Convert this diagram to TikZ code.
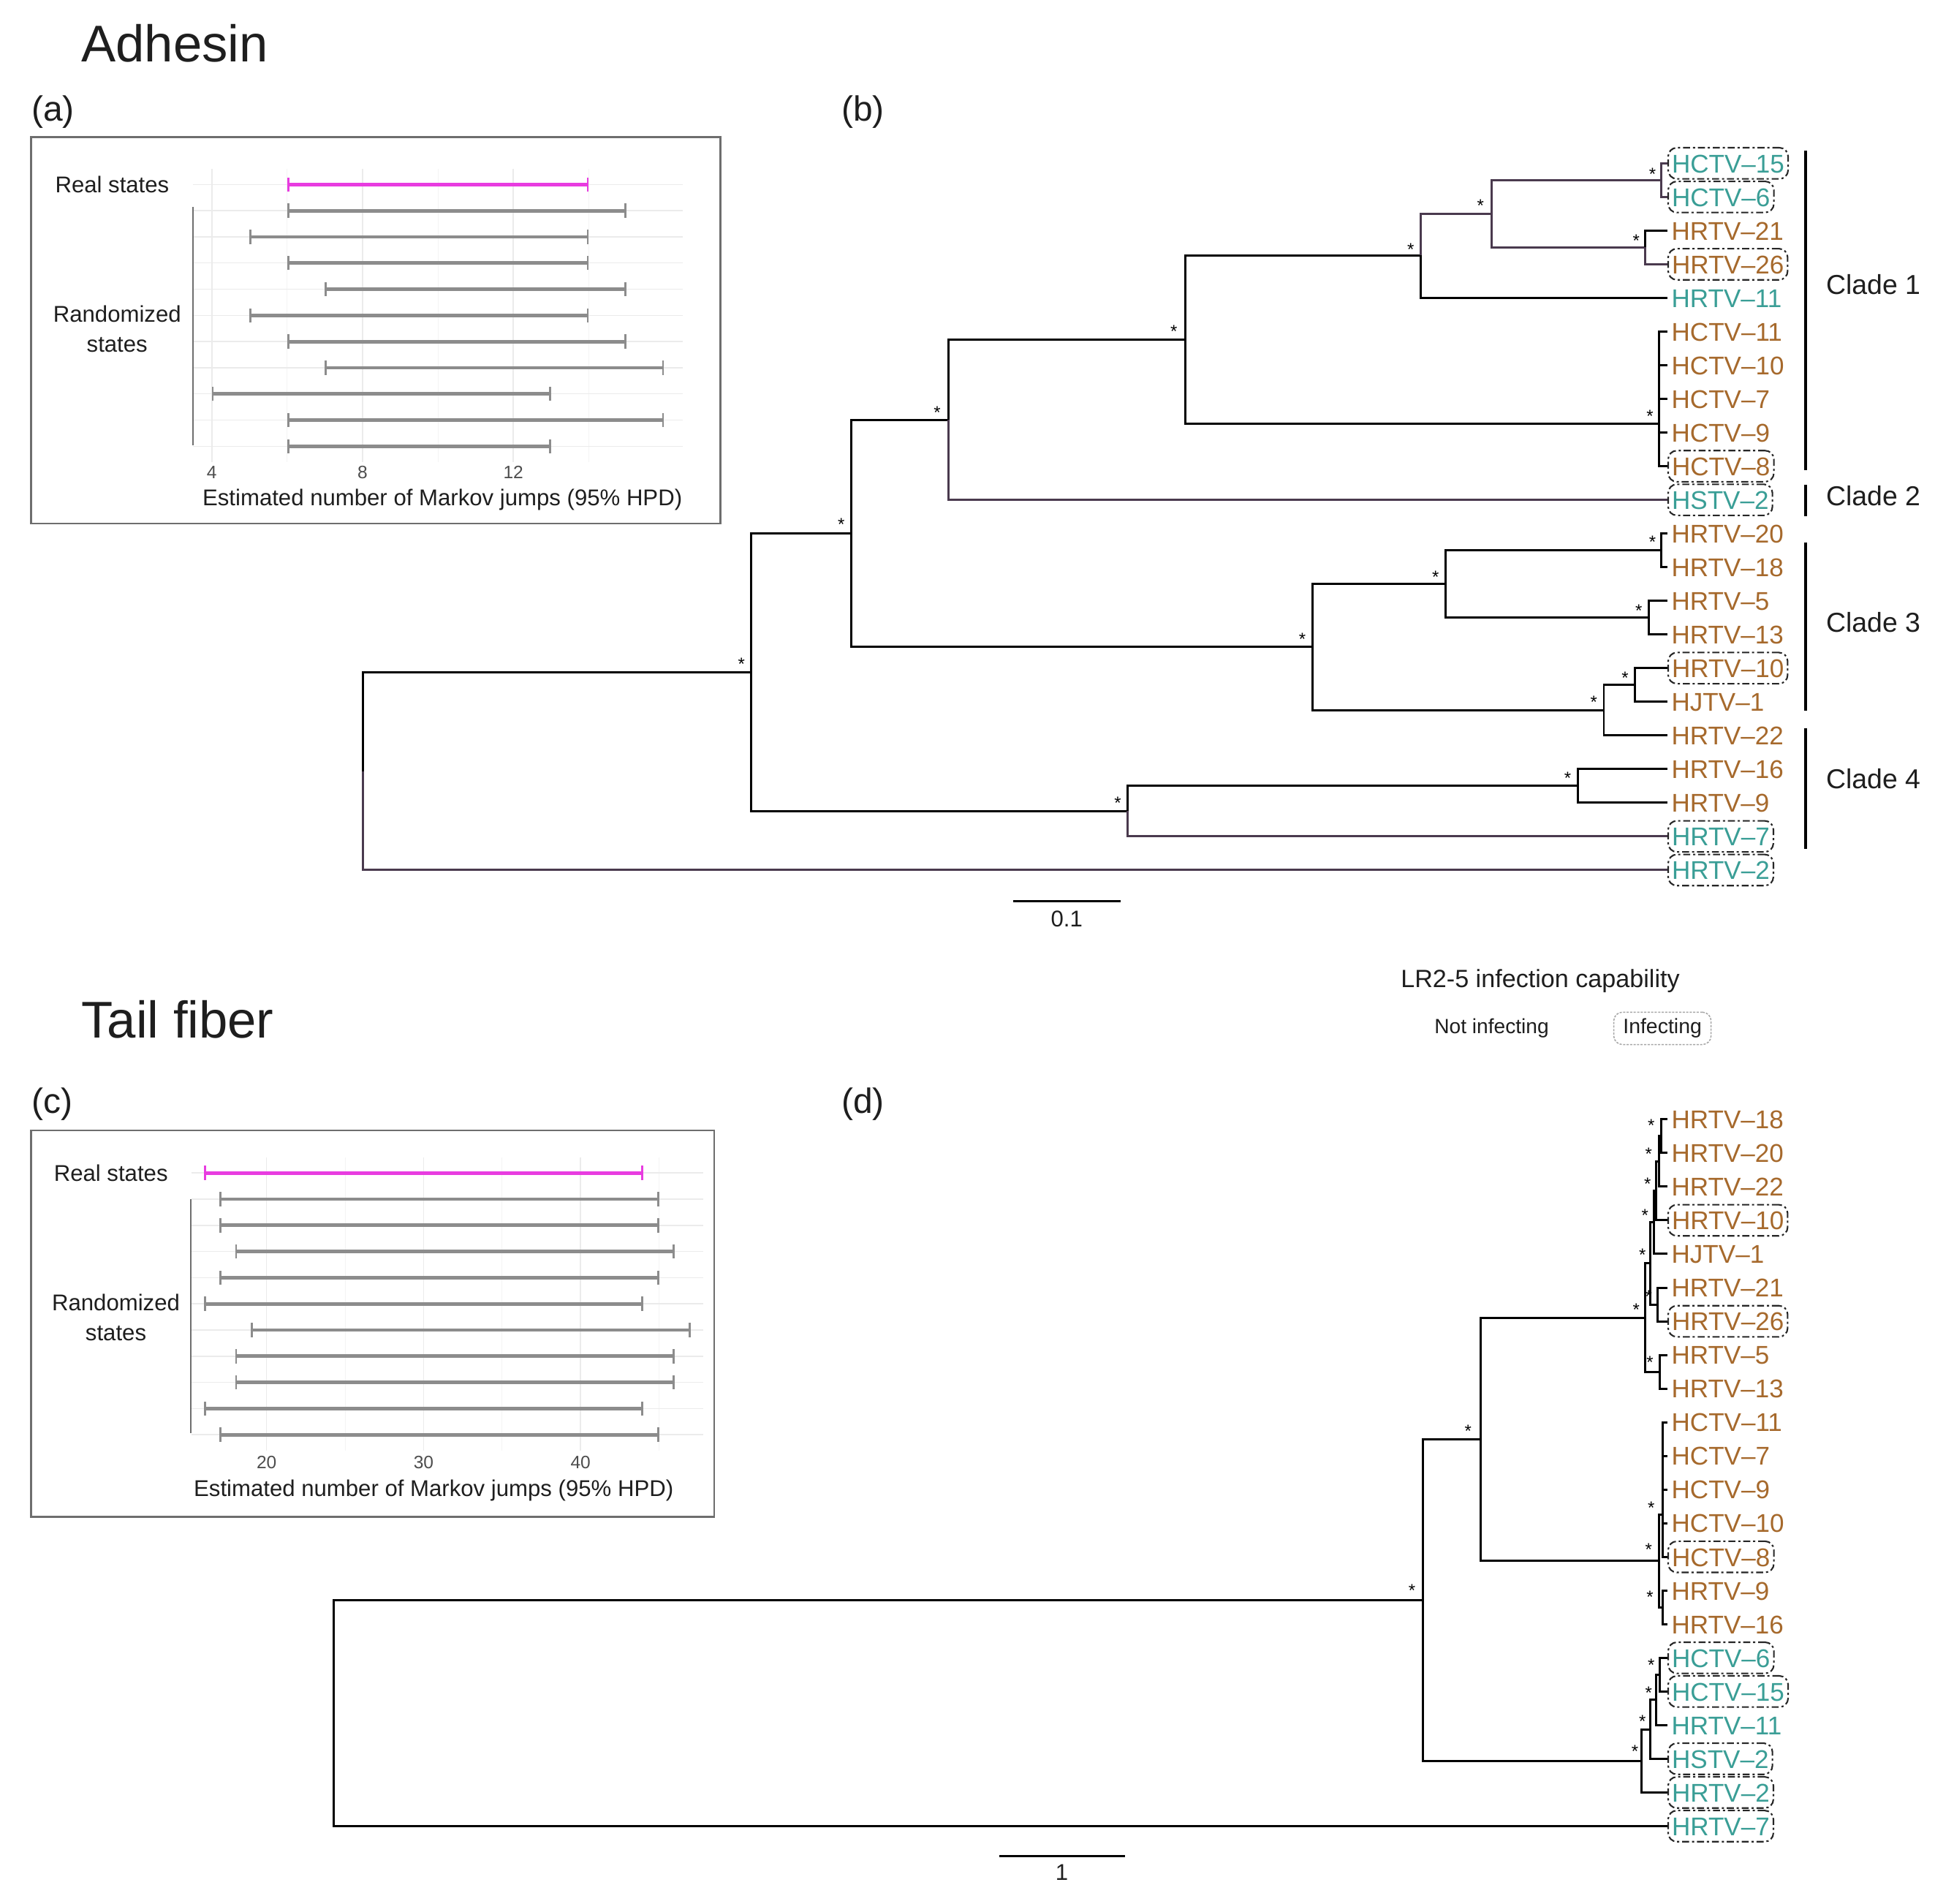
\documentclass[tikz,border=0pt]{standalone}
\usepackage{fontspec}
\setmainfont{Liberation Sans}
\usepackage{tikz}
\usetikzlibrary{arrows.meta}
\usepackage{xcolor}
\definecolor{tipteal}{HTML}{3A9E96}
\definecolor{tipbrown}{HTML}{A6692C}
\definecolor{hpdpink}{HTML}{E83CE0}
\definecolor{hpdgray}{HTML}{8C8C8C}
\definecolor{gridmaj}{HTML}{EBEBEB}
\definecolor{gridmin}{HTML}{F4F4F4}
\definecolor{brpurple}{HTML}{4A3A4E}
\definecolor{txtdark}{HTML}{1E1E1E}
\definecolor{tickgray}{HTML}{4D4D4D}
\definecolor{framegray}{HTML}{6E6E6E}

\tikzset{
  br/.style={line width=0.035cm,black},
  brp/.style={line width=0.035cm,brpurple},
  tip/.style={anchor=west,inner xsep=0.06cm,inner ysep=0.1cm,text height=0.3cm,text depth=0cm,
    font=\fontsize{11.7}{13}\selectfont},
  tipT/.style={tip,text=tipteal},
  tipR/.style={tip,text=tipbrown},
  infect/.style={draw=black!85,line width=0.7pt,rounded corners=0.14cm,
    dash pattern=on 3.2pt off 1.3pt on 1pt off 1.3pt},
  bs/.style={inner sep=0pt,font=\fontsize{8}{8}\selectfont},
  ttl/.style={anchor=west,inner sep=0pt,text=txtdark,font=\fontsize{23.6}{26}\selectfont},
  plab/.style={anchor=west,inner sep=0pt,text=txtdark,font=\fontsize{16}{18}\selectfont},
  lab/.style={inner sep=0pt,align=center,text=txtdark,font=\fontsize{10.4}{13.7}\selectfont},
  tick/.style={inner sep=0pt,text=tickgray,font=\fontsize{8.2}{9}\selectfont},
  clade/.style={anchor=west,inner sep=0pt,text=txtdark,font=\fontsize{12.5}{14}\selectfont},
  frame/.style={draw=framegray,line width=0.8pt},
  gmaj/.style={draw=gridmaj,line width=0.5pt},
  gmin/.style={draw=gridmin,line width=0.35pt},
  hpd/.style={draw=hpdgray,line width=1.6pt,{Bar[width=6.5pt,line width=0.9pt]}-{Bar[width=6.5pt,line width=0.9pt]}},
  hpdr/.style={hpd,draw=hpdpink},
  bracket/.style={draw=framegray,line width=0.7pt},
  cladebar/.style={line width=0.04cm,black}
}

\begin{document}
\begin{tikzpicture}[x=0.02cm,y=-0.02cm]
\useasboundingbox (0,0) rectangle (1568,1527.5);
\fill [white] (0,0) rectangle (1568,1527.5);

% titles and panel letters
\node [ttl] (tadh) at (65,35) {Adhesin};
\node [ttl] (ttail) at (65,818) {Tail fiber};
\node [plab] (pa) at (25,90) {(a)};
\node [plab] (pb) at (675,90) {(b)};
\node [plab] (pc) at (25,886) {(c)};
\node [plab] (pd) at (675,886) {(d)};

% panel (a)
\draw [frame] (25,110) rectangle (578,420);
\begin{scope}[shift={(49,0)},x=0.605cm]
\draw [gmin] (6,135.4) -- (6,370.6);
\draw [gmin] (10,135.4) -- (10,370.6);
\draw [gmin] (14,135.4) -- (14,370.6);
\draw [gmaj] (4,135.4) -- (4,370.6);
\draw [gmaj] (8,135.4) -- (8,370.6);
\draw [gmaj] (12,135.4) -- (12,370.6);
\draw [gmaj] (3.5,148) -- (16.5,148);
\draw [gmaj] (3.5,169) -- (16.5,169);
\draw [gmaj] (3.5,190) -- (16.5,190);
\draw [gmaj] (3.5,211) -- (16.5,211);
\draw [gmaj] (3.5,232) -- (16.5,232);
\draw [gmaj] (3.5,253) -- (16.5,253);
\draw [gmaj] (3.5,274) -- (16.5,274);
\draw [gmaj] (3.5,295) -- (16.5,295);
\draw [gmaj] (3.5,316) -- (16.5,316);
\draw [gmaj] (3.5,337) -- (16.5,337);
\draw [gmaj] (3.5,358) -- (16.5,358);
\draw [hpdr] (6,148) -- (14,148);
\draw [hpd] (6,169) -- (15,169);
\draw [hpd] (5,190) -- (14,190);
\draw [hpd] (6,211) -- (14,211);
\draw [hpd] (7,232) -- (15,232);
\draw [hpd] (5,253) -- (14,253);
\draw [hpd] (6,274) -- (15,274);
\draw [hpd] (7,295) -- (16,295);
\draw [hpd] (4,316) -- (13,316);
\draw [hpd] (6,337) -- (16,337);
\draw [hpd] (6,358) -- (13,358);
\node [tick] (ta4) at (4,379) {4};
\node [tick] (ta8) at (8,379) {8};
\node [tick] (ta12) at (12,379) {12};
\end{scope}
\draw [bracket] (155,166) -- (155,357);
\node [lab] (areal) at (90,148) {Real states};
\node [lab] (arand) at (94,264) {Randomized\\states};
\node [lab] (aaxis) at (355,401) {Estimated number of Markov jumps (95\% HPD)};

% panel (c)
\draw [frame] (25,907) rectangle (573,1217);
\begin{scope}[shift={(-38,0)},x=0.252cm]
\draw [gmin] (25,928.4) -- (25,1163.6);
\draw [gmin] (35,928.4) -- (35,1163.6);
\draw [gmin] (45,928.4) -- (45,1163.6);
\draw [gmaj] (20,928.4) -- (20,1163.6);
\draw [gmaj] (30,928.4) -- (30,1163.6);
\draw [gmaj] (40,928.4) -- (40,1163.6);
\draw [gmaj] (15.2,941) -- (47.8,941);
\draw [gmaj] (15.2,962) -- (47.8,962);
\draw [gmaj] (15.2,983) -- (47.8,983);
\draw [gmaj] (15.2,1004) -- (47.8,1004);
\draw [gmaj] (15.2,1025) -- (47.8,1025);
\draw [gmaj] (15.2,1046) -- (47.8,1046);
\draw [gmaj] (15.2,1067) -- (47.8,1067);
\draw [gmaj] (15.2,1088) -- (47.8,1088);
\draw [gmaj] (15.2,1109) -- (47.8,1109);
\draw [gmaj] (15.2,1130) -- (47.8,1130);
\draw [gmaj] (15.2,1151) -- (47.8,1151);
\draw [hpdr] (16,941) -- (44,941);
\draw [hpd] (17,962) -- (45,962);
\draw [hpd] (17,983) -- (45,983);
\draw [hpd] (18,1004) -- (46,1004);
\draw [hpd] (17,1025) -- (45,1025);
\draw [hpd] (16,1046) -- (44,1046);
\draw [hpd] (19,1067) -- (47,1067);
\draw [hpd] (18,1088) -- (46,1088);
\draw [hpd] (18,1109) -- (46,1109);
\draw [hpd] (16,1130) -- (44,1130);
\draw [hpd] (17,1151) -- (45,1151);
\node [tick] (tc20) at (20,1173) {20};
\node [tick] (tc30) at (30,1173) {30};
\node [tick] (tc40) at (40,1173) {40};
\end{scope}
\draw [bracket] (153,962) -- (153,1150);
\node [lab] (creal) at (89,941) {Real states};
\node [lab] (crand) at (93,1057) {Randomized\\states};
\node [lab] (caxis) at (348,1196) {Estimated number of Markov jumps (95\% HPD)};

% tree (b): tips
\node [tipT,infect] (b1) at (1338,131) {HCTV–15};
\node [tipT,infect] (b2) at (1338,158) {HCTV–6};
\node [tipR] (b3) at (1338,185) {HRTV–21};
\node [tipR,infect] (b4) at (1338,212) {HRTV–26};
\node [tipT] (b5) at (1338,239) {HRTV–11};
\node [tipR] (b6) at (1338,266) {HCTV–11};
\node [tipR] (b7) at (1338,293) {HCTV–10};
\node [tipR] (b8) at (1338,320) {HCTV–7};
\node [tipR] (b9) at (1338,347) {HCTV–9};
\node [tipR,infect] (b10) at (1338,374) {HCTV–8};
\node [tipT,infect] (b11) at (1338,401) {HSTV–2};
\node [tipR] (b12) at (1338,428) {HRTV–20};
\node [tipR] (b13) at (1338,455) {HRTV–18};
\node [tipR] (b14) at (1338,482) {HRTV–5};
\node [tipR] (b15) at (1338,509) {HRTV–13};
\node [tipR,infect] (b16) at (1338,536) {HRTV–10};
\node [tipR] (b17) at (1338,563) {HJTV–1};
\node [tipR] (b18) at (1338,590) {HRTV–22};
\node [tipR] (b19) at (1338,617) {HRTV–16};
\node [tipR] (b20) at (1338,644) {HRTV–9};
\node [tipT,infect] (b21) at (1338,671) {HRTV–7};
\node [tipT,infect] (b22) at (1338,698) {HRTV–2};

% tree (b): inner nodes
\coordinate (bR) at (291,618.7);
\coordinate (bA) at (603,539.3);
\coordinate (bB) at (683,427.9);
\coordinate (bC) at (905,650.75);
\coordinate (bD) at (761,336.75);
\coordinate (bE) at (1053,519.1);
\coordinate (bF) at (951,272.5);
\coordinate (bG) at (1140,205);
\coordinate (bH) at (1331,340);
\coordinate (bI) at (1197,171.5);
\coordinate (bJ) at (1333,144.5);
\coordinate (bK) at (1320,198.5);
\coordinate (bL) at (1160,468.5);
\coordinate (bM) at (1287,569.75);
\coordinate (bN) at (1333,441.5);
\coordinate (bO) at (1323,495.5);
\coordinate (bP) at (1312,549.5);
\coordinate (bQ) at (1266,630.5);

\draw [br] (bR) |- (bA);
\draw [brp] (bR) |- (b22.west);
\draw [br] (bA) |- (bB);
\draw [br] (bA) |- (bC);
\draw [br] (bB) |- (bD);
\draw [br] (bB) |- (bE);
\draw [br] (bD) |- (bF);
\draw [brp] (bD) |- (b11.west);
\draw [br] (bF) |- (bG);
\draw [br] (bF) |- (bH);
\draw [brp] (bG) |- (bI);
\draw [br] (bG) |- (b5.west);
\draw [brp] (bI) |- (bJ);
\draw [brp] (bI) |- (bK);
\draw [brp] (bJ) |- (b1.west);
\draw [brp] (bJ) |- (b2.west);
\draw [br] (bK) |- (b3.west);
\draw [brp] (bK) |- (b4.west);
\draw [br] (bH) |- (b6.west);
\draw [br] (bH) |- (b7.west);
\draw [br] (bH) |- (b8.west);
\draw [br] (bH) |- (b9.west);
\draw [br] (bH) |- (b10.west);
\draw [br] (bE) |- (bL);
\draw [br] (bE) |- (bM);
\draw [br] (bL) |- (bN);
\draw [br] (bL) |- (bO);
\draw [br] (bN) |- (b12.west);
\draw [br] (bN) |- (b13.west);
\draw [br] (bO) |- (b14.west);
\draw [br] (bO) |- (b15.west);
\draw [br] (bM) |- (bP);
\draw [br] (bM) |- (b18.west);
\draw [br] (bP) |- (b16.west);
\draw [br] (bP) |- (b17.west);
\draw [br] (bC) |- (bQ);
\draw [brp] (bC) |- (b21.west);
\draw [br] (bQ) |- (b19.west);
\draw [br] (bQ) |- (b20.west);

% tree (b): support stars
\node [bs] (sbA) at (595,533) {*};
\node [bs] (sbB) at (675,421) {*};
\node [bs] (sbD) at (752,331) {*};
\node [bs] (sbF) at (942,266) {*};
\node [bs] (sbG) at (1132,200) {*};
\node [bs] (sbI) at (1188,165) {*};
\node [bs] (sbJ) at (1326,140) {*};
\node [bs] (sbK) at (1313,193) {*};
\node [bs] (sbH) at (1324,334) {*};
\node [bs] (sbE) at (1045,513) {*};
\node [bs] (sbL) at (1152,463) {*};
\node [bs] (sbN) at (1326,435) {*};
\node [bs] (sbO) at (1315,490) {*};
\node [bs] (sbM) at (1279,563) {*};
\node [bs] (sbP) at (1304,544) {*};
\node [bs] (sbC) at (897,644) {*};
\node [bs] (sbQ) at (1258,624) {*};

% clades
\draw [cladebar] (1449,121) -- (1449,377);
\draw [cladebar] (1449,389) -- (1449,414);
\draw [cladebar] (1449,435) -- (1449,570);
\draw [cladebar] (1449,584) -- (1449,681);
\node [clade] (cl1) at (1465,228) {Clade 1};
\node [clade] (cl2) at (1465,398) {Clade 2};
\node [clade] (cl3) at (1465,499) {Clade 3};
\node [clade] (cl4) at (1465,625) {Clade 4};

% scale bar (b)
\draw [br] (813,723) -- (899,723);
\node [lab] (sb1) at (856,737) {0.1};

% legend
\node [lab,font=\fontsize{11.4}{13}\selectfont] (lgt) at (1236,787) {LR2-5 infection capability};
\node [lab,font=\fontsize{9.4}{11}\selectfont] (lgn) at (1197,825) {Not infecting};
\node [lab,font=\fontsize{9.5}{11}\selectfont,draw=black!35,line width=0.5pt,rounded corners=0.14cm,
  dash pattern=on 1pt off 0.6pt,inner xsep=0.15cm,minimum height=0.52cm] (lgi) at (1334,825) {Infecting};

% tree (d): tips
\node [tipR] (d1) at (1338,898) {HRTV–18};
\node [tipR] (d2) at (1338,925) {HRTV–20};
\node [tipR] (d3) at (1338,952) {HRTV–22};
\node [tipR,infect] (d4) at (1338,979) {HRTV–10};
\node [tipR] (d5) at (1338,1006) {HJTV–1};
\node [tipR] (d6) at (1338,1033) {HRTV–21};
\node [tipR,infect] (d7) at (1338,1060) {HRTV–26};
\node [tipR] (d8) at (1338,1087) {HRTV–5};
\node [tipR] (d9) at (1338,1114) {HRTV–13};
\node [tipR] (d10) at (1338,1141) {HCTV–11};
\node [tipR] (d11) at (1338,1168) {HCTV–7};
\node [tipR] (d12) at (1338,1195) {HCTV–9};
\node [tipR] (d13) at (1338,1222) {HCTV–10};
\node [tipR,infect] (d14) at (1338,1249) {HCTV–8};
\node [tipR] (d15) at (1338,1276) {HRTV–9};
\node [tipR] (d16) at (1338,1303) {HRTV–16};
\node [tipT,infect] (d17) at (1338,1330) {HCTV–6};
\node [tipT,infect] (d18) at (1338,1357) {HCTV–15};
\node [tipT] (d19) at (1338,1384) {HRTV–11};
\node [tipT,infect] (d20) at (1338,1411) {HSTV–2};
\node [tipT,infect] (d21) at (1338,1438) {HRTV–2};
\node [tipT,infect] (d22) at (1338,1465) {HRTV–7};

% tree (d): inner nodes
\coordinate (dR) at (268,1374.35);
\coordinate (dA) at (1142,1283.7);
\coordinate (dB) at (1188,1154.65);
\coordinate (da1) at (1333,911.5);
\coordinate (da2) at (1331,931.75);
\coordinate (da3) at (1329,955.4);
\coordinate (da4) at (1327,980.7);
\coordinate (da5) at (1324,1013.6);
\coordinate (da6) at (1320,1057.05);
\coordinate (db1) at (1330,1046.5);
\coordinate (db2) at (1332,1100.5);
\coordinate (dc0) at (1331,1252.25);
\coordinate (dc1) at (1334,1215);
\coordinate (dc2) at (1334,1289.5);
\coordinate (dt1) at (1332,1343.5);
\coordinate (dt2) at (1329,1363.75);
\coordinate (dt3) at (1324,1387.4);
\coordinate (dt4) at (1317,1412.7);

\draw [br] (dR) |- (dA);
\draw [br] (dR) |- (d22.west);
\draw [br] (dA) |- (dB);
\draw [br] (dA) |- (dt4);
\draw [br] (dB) |- (da6);
\draw [br] (dB) |- (dc0);
\draw [br] (da6) |- (da5);
\draw [br] (da6) |- (db2);
\draw [br] (da5) |- (da4);
\draw [br] (da5) |- (db1);
\draw [br] (da4) |- (da3);
\draw [br] (da4) |- (d5.west);
\draw [br] (da3) |- (da2);
\draw [br] (da3) |- (d4.west);
\draw [br] (da2) |- (da1);
\draw [br] (da2) |- (d3.west);
\draw [br] (da1) |- (d1.west);
\draw [br] (da1) |- (d2.west);
\draw [br] (db1) |- (d6.west);
\draw [br] (db1) |- (d7.west);
\draw [br] (db2) |- (d8.west);
\draw [br] (db2) |- (d9.west);
\draw [br] (dc0) |- (dc1);
\draw [br] (dc0) |- (dc2);
\draw [br] (dc1) |- (d10.west);
\draw [br] (dc1) |- (d11.west);
\draw [br] (dc1) |- (d12.west);
\draw [br] (dc1) |- (d13.west);
\draw [br] (dc1) |- (d14.west);
\draw [br] (dc2) |- (d15.west);
\draw [br] (dc2) |- (d16.west);
\draw [br] (dt4) |- (dt3);
\draw [br] (dt4) |- (d21.west);
\draw [br] (dt3) |- (dt2);
\draw [br] (dt3) |- (d20.west);
\draw [br] (dt2) |- (dt1);
\draw [br] (dt2) |- (d19.west);
\draw [br] (dt1) |- (d17.west);
\draw [br] (dt1) |- (d18.west);

% tree (d): support stars
\node [bs] (sdA) at (1133,1276) {*};
\node [bs] (sdB) at (1178,1148) {*};
\node [bs] (sda1) at (1325,903) {*};
\node [bs] (sda2) at (1323,926) {*};
\node [bs] (sda3) at (1322,950) {*};
\node [bs] (sda4) at (1320,975) {*};
\node [bs] (sda5) at (1318,1007) {*};
\node [bs] (sdb1) at (1323,1040) {*};
\node [bs] (sda6) at (1313,1051) {*};
\node [bs] (sdb2) at (1324,1093) {*};
\node [bs] (sdc1) at (1325,1210) {*};
\node [bs] (sdc0) at (1323,1243) {*};
\node [bs] (sdc2) at (1324,1281) {*};
\node [bs] (sdt1) at (1325,1336) {*};
\node [bs] (sdt2) at (1323,1358) {*};
\node [bs] (sdt3) at (1318,1381) {*};
\node [bs] (sdt4) at (1312,1405) {*};

% scale bar (d)
\draw [br] (802,1489) -- (903,1489);
\node [lab] (sb2) at (852,1502) {1};
\end{tikzpicture}
\end{document}
